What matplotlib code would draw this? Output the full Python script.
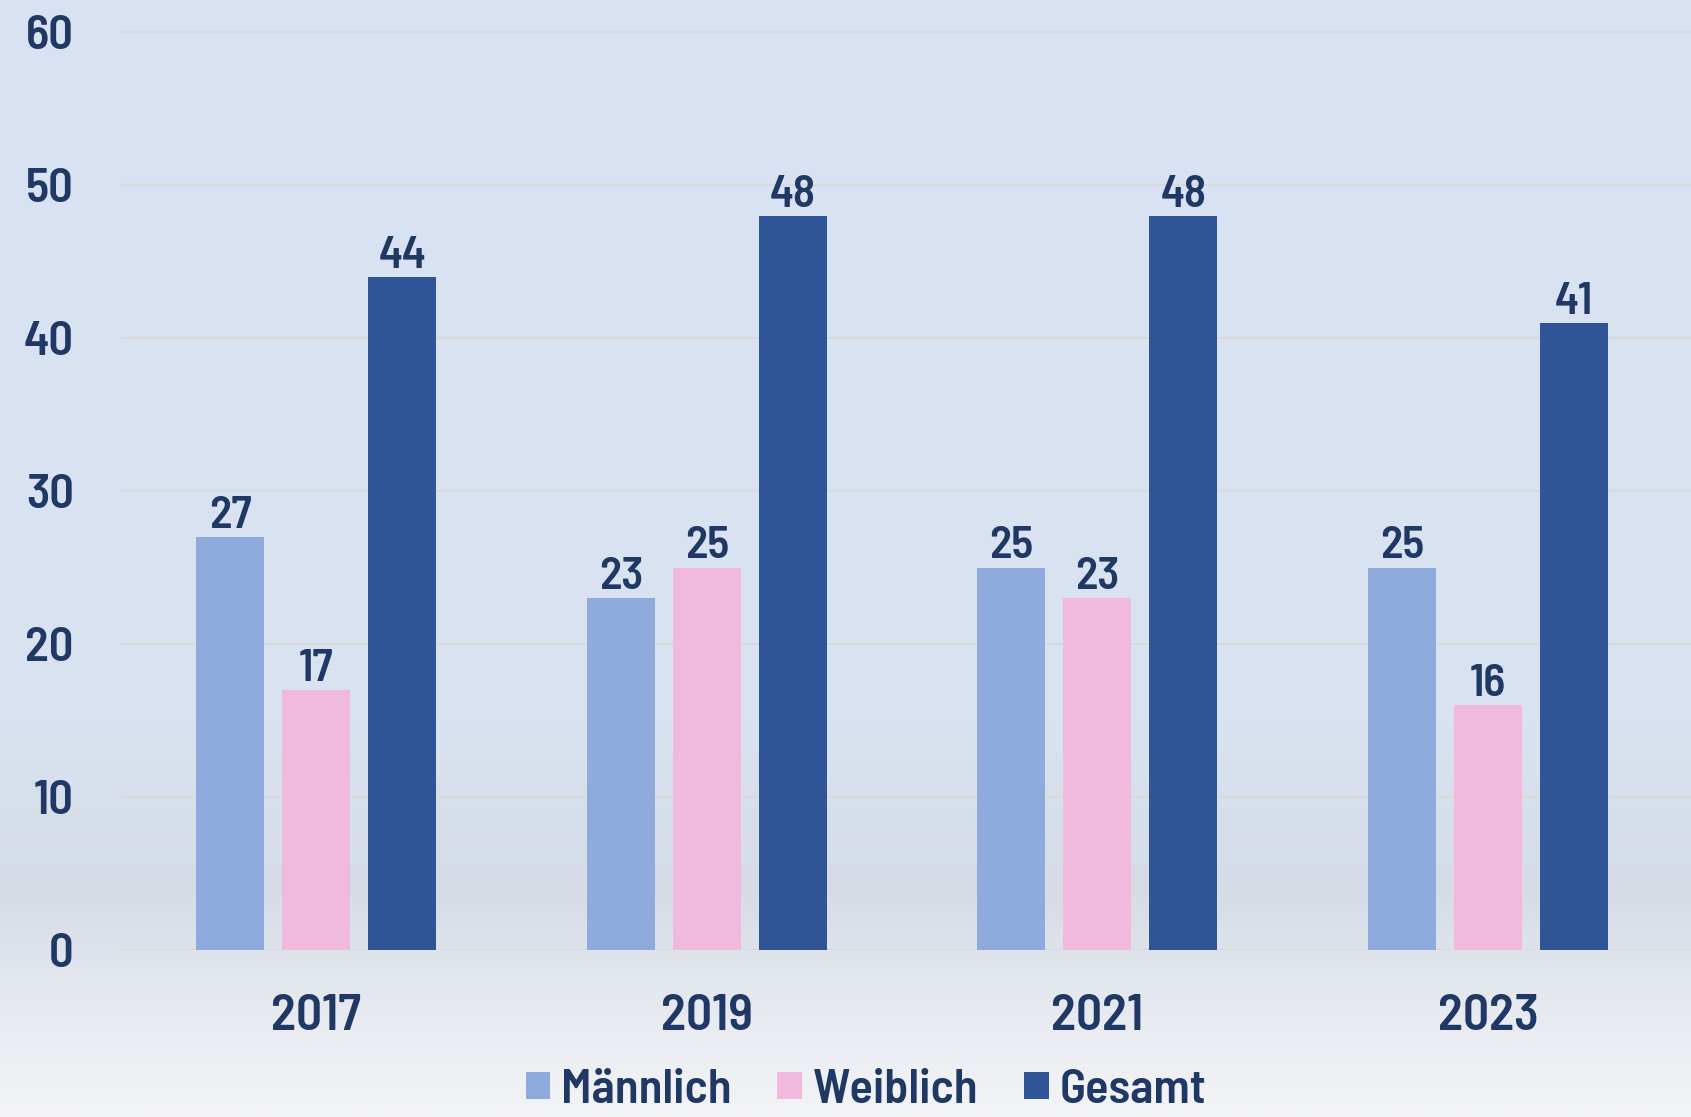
import numpy as np
import matplotlib
matplotlib.use("Agg")
import matplotlib.pyplot as plt
from matplotlib.colors import LinearSegmentedColormap

years = ["2017", "2019", "2021", "2023"]
maennlich = [27, 23, 25, 25]
weiblich = [17, 25, 23, 16]
gesamt = [44, 48, 48, 41]
series_names = ["Männlich", "Weiblich", "Gesamt"]
yticks = [0, 10, 20, 30, 40, 50, 60]

colors = ["#8faadc", "#f1b9dd", "#2f5597"]
text_color = "#203864"
plt.rcParams["font.family"] = ["Barlow Semi Condensed", "DejaVu Sans"]
plt.rcParams["font.weight"] = 600

W, H = 1691, 1117
fig = plt.figure(figsize=(W / 100, H / 100), dpi=100)

# background gradient
bg = fig.add_axes([0, 0, 1, 1], zorder=-10)
cmap = LinearSegmentedColormap.from_list(
    "bg", [(0.0, "#f3f4f7"), (0.12, "#e3e7ee"), (0.2, "#d5dce6"),
           (0.35, "#d9e2f0"), (1.0, "#dae3f3")])
grad = np.linspace(0, 1, 512).reshape(-1, 1)
bg.imshow(grad, cmap=cmap, aspect="auto", origin="lower", extent=[0, 1, 0, 1])
bg.set_axis_off()

left = 121 / W
bottom = (H - 950) / H
top_px = 950 - 60.5 * (950 - 32) / 60
height = (950 - top_px) / H
ax = fig.add_axes([left, bottom, 1 - left, height])
ax.set_facecolor("none")

x = np.arange(len(years))
step = 0.22
width = 0.174
data = [maennlich, weiblich, gesamt]
for i, (vals, name, c) in enumerate(zip(data, series_names, colors)):
    bars = ax.bar(x + (i - 1) * step, vals, width=width, color=c, label=name, zorder=3)
    ax.bar_label(bars, padding=0, fontsize=33, color=text_color, fontweight=600)

ax.set_xlim(-0.5, 3.52)
ax.set_ylim(0, 60.5)
ax.set_yticks(yticks)
ax.set_xticks(x)
ax.set_xticklabels(years)
ax.tick_params(axis="y", length=0, pad=34, labelsize=35, labelcolor=text_color)
ax.tick_params(axis="x", length=0, pad=32, labelsize=37, labelcolor=text_color)
for s in ax.spines.values():
    s.set_visible(False)
ax.grid(axis="y", color="#d9d9d9", linewidth=1.5, zorder=0)
ax.set_axisbelow(True)

fig.legend(loc="center", bbox_to_anchor=(0.512, 0.024), ncol=3, frameon=False,
           fontsize=35, handlelength=0.5, handleheight=0.5, handletextpad=0.22,
           columnspacing=0.95, labelcolor=text_color)

fig.savefig("out.png", dpi=100)
